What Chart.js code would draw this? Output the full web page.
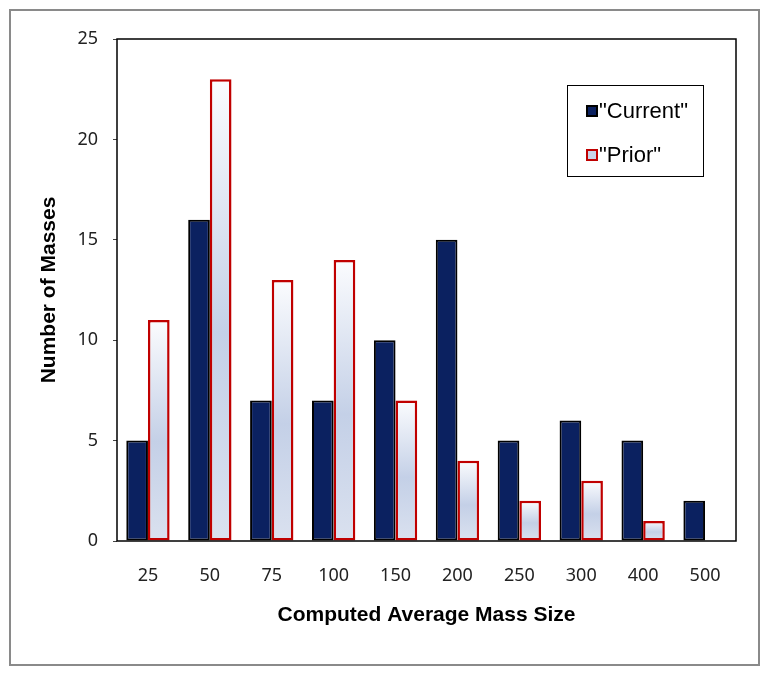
<!DOCTYPE html>
<html>
<head>
<meta charset="utf-8">
<script src="https://cdn.jsdelivr.net/npm/chart.js@4/dist/chart.umd.min.js"></script>
<style>
  html, body { margin: 0; padding: 0; background: #fff; }
  canvas { display: block; }
</style>
</head>
<body>
<canvas id="chart" width="770" height="676" style="width:770px;height:676px"></canvas>
<script>
/* ------------------------------------------------ */

let sizes = ['25', '50', '75', '100', '150', '200', '250', '300', '400', '500'];
let current = [5, 16, 7, 7, 10, 15, 5, 6, 5, 2];
let prior = [11, 23, 13, 14, 7, 4, 2, 3, 1, 0];

let navy = '#0b2160';
let red = '#c00000';

/* ------------------------------------------------ */

function priorFill(context) {
  let chart = context.chart;
  let yScale = chart.scales.y;
  if (!chart.chartArea || !yScale || context.raw == null) return '#d3dcec';
  let top = yScale.getPixelForValue(context.raw);
  let base = yScale.getPixelForValue(0);
  if (!isFinite(top) || !isFinite(base) || base - top < 1) return '#d3dcec';
  let g = chart.ctx.createLinearGradient(0, top, 0, base);
  g.addColorStop(0, '#fbfcfe');
  g.addColorStop(0.55, '#c4d0e7');
  g.addColorStop(1, '#dae1ef');
  return g;
}

// outer frame + box round the plot area
let framePlugin = {
  id: 'frame',
  beforeDraw(chart) {
    let ctx = chart.ctx;
    ctx.save();
    ctx.fillStyle = '#fff';
    ctx.fillRect(0, 0, chart.width, chart.height);
    ctx.strokeStyle = '#8a8a8a';
    ctx.lineWidth = 2;
    ctx.strokeRect(10, 10, 749, 655);
    ctx.restore();
  },
  afterDraw(chart) {
    let ctx = chart.ctx;
    let a = chart.chartArea;
    ctx.save();
    ctx.strokeStyle = '#000';
    ctx.lineWidth = 1.5;
    ctx.strokeRect(a.left, a.top, a.right - a.left, a.bottom - a.top);
    ctx.restore();
  }
};

// legend drawn in a box inside the plot
let legendBoxPlugin = {
  id: 'legendBox',
  afterDraw(chart) {
    let ctx = chart.ctx;
    ctx.save();
    ctx.fillStyle = '#fff';
    ctx.fillRect(567, 85, 136, 91);
    ctx.strokeStyle = '#000';
    ctx.lineWidth = 1;
    ctx.strokeRect(567.5, 85.5, 136, 91);
    ctx.font = '22px "Liberation Sans", Arial, sans-serif';
    ctx.textBaseline = 'middle';
    chart.data.datasets.forEach((ds, i) => {
      let y = 111 + i * 44;
      ctx.fillStyle = ds.legendFill;
      ctx.fillRect(587, y - 5, 10, 10);
      ctx.strokeStyle = ds.borderColor;
      ctx.lineWidth = 2;
      ctx.strokeRect(587, y - 5, 10, 10);
      ctx.fillStyle = '#000';
      ctx.fillText('"' + ds.label + '"', 599, y + 1);
    });
    ctx.restore();
  }
};

/* ------------------------------------------------ */

let ctx = document.getElementById('chart').getContext('2d');
let chart = new Chart(ctx, {
  type: 'bar',
  data: {
    labels: sizes,
    datasets: [
      {
        label: 'Current',
        data: current,
        backgroundColor: navy,
        legendFill: navy,
        borderColor: '#000',
        borderWidth: 2,
        borderSkipped: false,
      },
      {
        label: 'Prior',
        data: prior,
        backgroundColor: priorFill,
        legendFill: '#c9d3e8',
        borderColor: red,
        borderWidth: (c) => (c.raw ? 2.5 : 0),
        borderSkipped: false,
      },
    ],
  },
  options: {
    responsive: false,
    animation: false,
    layout: { padding: { left: 30, right: 34, top: 39, bottom: 40 } },
    datasets: {
      bar: { categoryPercentage: 0.7, barPercentage: 1.0 },
    },
    plugins: {
      legend: { display: false },
      tooltip: { enabled: false },
    },
    scales: {
      x: {
        afterFit: (s) => { s.height = 95; },
        grid: { display: false, drawTicks: false },
        border: { display: false },
        ticks: {
          padding: 24,
          color: '#222',
          font: { family: '"Noto Sans", sans-serif', size: 18 },
        },
        title: {
          display: true,
          text: 'Computed Average Mass Size',
          color: '#000',
          padding: { top: 0, bottom: 8 },
          font: { family: '"Liberation Sans", Arial, sans-serif', size: 21, weight: 'bold' },
        },
      },
      y: {
        min: 0,
        max: 25,
        afterFit: (s) => { s.width = 87; },
        grid: { drawOnChartArea: false, drawTicks: true, tickLength: 4, tickColor: '#444' },
        border: { display: false },
        ticks: {
          stepSize: 5,
          padding: 15,
          color: '#222',
          font: { family: '"Noto Sans", sans-serif', size: 18 },
        },
        title: {
          display: true,
          text: 'Number of Masses',
          color: '#000',
          padding: { top: 7, bottom: 0 },
          font: { family: '"Liberation Sans", Arial, sans-serif', size: 21, weight: 'bold' },
        },
      },
    },
  },
  plugins: [framePlugin, legendBoxPlugin],
});
</script>
</body>
</html>
